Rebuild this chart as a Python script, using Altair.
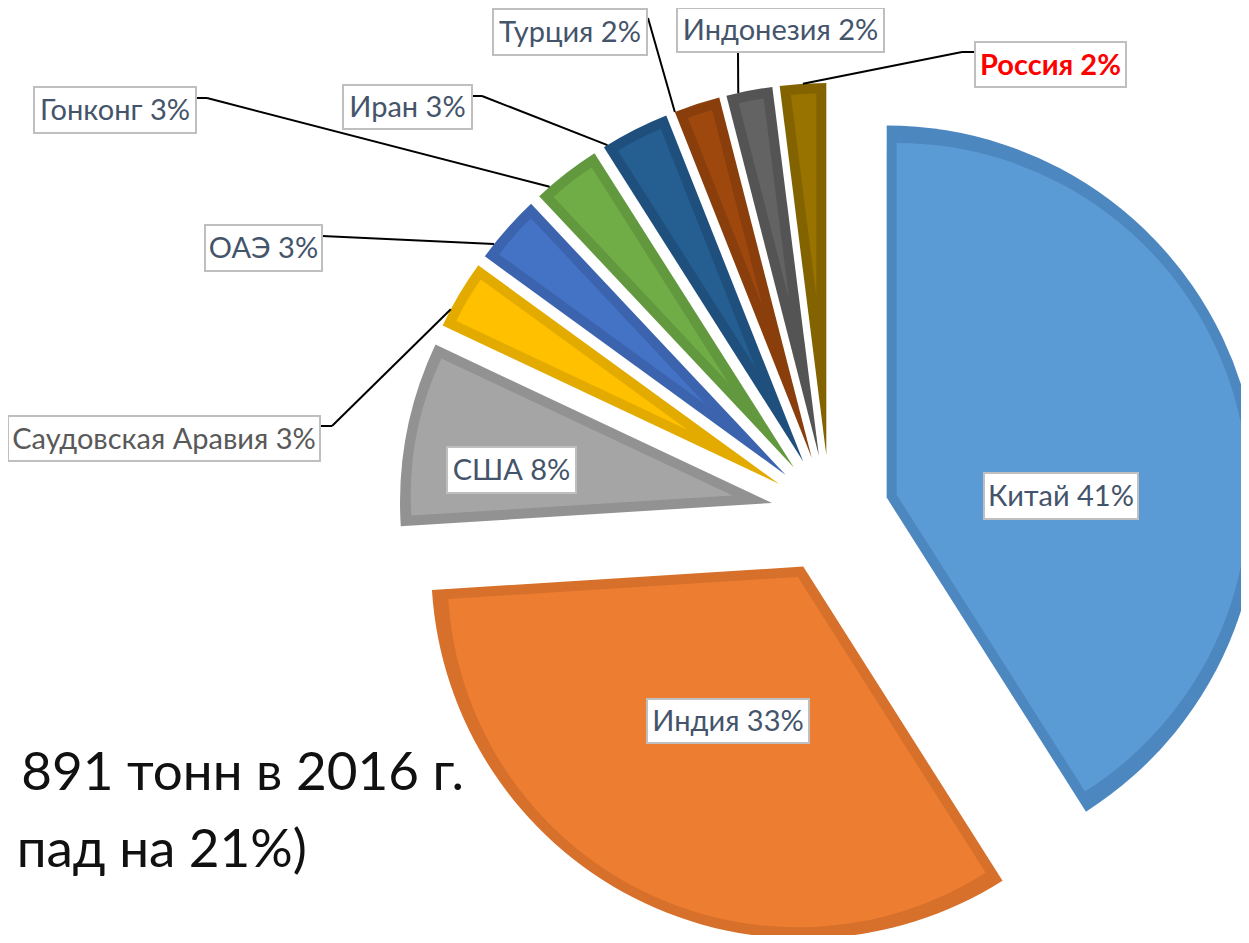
import altair as alt
import pandas as pd

# ---- data ----
countries = ["Китай", "Индия", "США", "Саудовская Аравия", "ОАЭ", "Гонконг",
             "Иран", "Турция", "Индонезия", "Россия"]
shares = [41, 33, 8, 3, 3, 3, 3, 2, 2, 2]
labels = ["Китай 41%", "Индия 33%", "США  8%", "Саудовская Аравия 3%", "ОАЭ 3%",
          "Гонконг 3%", "Иран 3%", "Турция 2%", "Индонезия 2%", "Россия 2%"]
note_lines = ["891 тонн в 2016 г.", "пад на 21%)"]

# ---- styles ----
fill_colors = ["#5B9BD5", "#ED7D31", "#A5A5A5", "#FFC000", "#4472C4", "#70AD47",
               "#255E91", "#9E480E", "#636363", "#997300"]
border_colors = ["#4D87C0", "#D6702B", "#929292", "#E3AB00", "#3C64AE", "#62983E",
                 "#1F507D", "#893E0C", "#545454", "#836300"]
label_colors = ["#44546A", "#44546A", "#44546A", "#595959", "#44546A", "#44546A",
                "#44546A", "#44546A", "#44546A", "#FF0000"]
label_bold = [0] * 9 + [1]

# ---- layout (pixels inside the view) ----
box_x1 = [976, 639, 439, 0, 197, 26, 335, 485, 669, 967]
box_x2 = [1130, 801, 568, 312, 314, 188, 464, 639, 876, 1118]
box_y1 = [465, 691, 439, 408, 217, 79, 77, 1, 0, 34]
box_y2 = [511, 735, 485, 453, 263, 125, 121, 47, 44, 79]
lead_ax = [0, 0, 0, 312, 314, 188, 464, 640, 730, 967]
lead_ay = [0, 0, 0, 418, 228, 90, 88, 10, 44, 44]
lead_ex = [0, 0, 0, 324, 314, 199, 474, 640, 730, 954]
lead_ey = [0, 0, 0, 418, 228, 90, 88, 10, 44, 44]
lead_frac = [-1, -1, -1, 0.26, 0.22, 0.2, 0.06, 0.0, 0.26, 0.5]

CX, CY = 822, 506      # pie centre
R = 372                # radius
EXPLODE = 59           # explosion distance
BORDER = 10            # inner border width
W, H = 1233, 927

df = pd.DataFrame({
    "order": list(range(len(countries))),
    "country": countries, "share": shares, "label": labels,
    "fillc": fill_colors, "borderc": border_colors,
    "lcolor": label_colors, "bold": label_bold,
    "bx1": box_x1, "bx2": box_x2, "by1": box_y1, "by2": box_y2,
    "ax": lead_ax, "ay": lead_ay, "ex": lead_ex, "ey": lead_ey, "frac": lead_frac,
})

base = (
    alt.Chart(df)
    .transform_window(cum="sum(share)", sort=[alt.SortField("order")], frame=[None, 0])
    .transform_joinaggregate(total="sum(share)")
    .transform_calculate(a0="2*PI*(datum.cum - datum.share)/datum.total")
    .transform_calculate(a1="2*PI*datum.cum/datum.total")
    .transform_calculate(mid="(datum.a0 + datum.a1)/2")
    .transform_calculate(half="(datum.a1 - datum.a0)/2")
    .transform_calculate(ox=f"{CX} + {EXPLODE}*sin(datum.mid)")
    .transform_calculate(oy=f"{CY} - {EXPLODE}*cos(datum.mid)")
    .transform_calculate(s=f"{BORDER}/sin(datum.half)")
    .transform_calculate(ix="datum.ox + datum.s*sin(datum.mid)")
    .transform_calculate(iy="datum.oy - datum.s*cos(datum.mid)")
    .transform_calculate(ir=f"{R - BORDER} - datum.s")
    .transform_calculate(at="datum.a0 + datum.frac*(datum.a1 - datum.a0)")
    .transform_calculate(tx=f"datum.ox + {R}*sin(datum.at)")
    .transform_calculate(ty=f"datum.oy - {R}*cos(datum.at)")
    .transform_calculate(cxl="(datum.bx1 + datum.bx2)/2")
    .transform_calculate(cyl="(datum.by1 + datum.by2)/2")
)

outer = base.mark_arc(outerRadius=R, clip=True).encode(
    x=alt.X("ox:Q", scale=None, axis=None),
    y=alt.Y("oy:Q", scale=None, axis=None),
    theta=alt.Theta("a0:Q", scale=None, stack=False),
    theta2="a1:Q",
    color=alt.Color("borderc:N", scale=None, legend=None),
)

inner = base.mark_arc(clip=True).encode(
    x=alt.X("ix:Q", scale=None, axis=None),
    y=alt.Y("iy:Q", scale=None, axis=None),
    theta=alt.Theta("a0:Q", scale=None, stack=False),
    theta2="a1:Q",
    radius=alt.Radius("ir:Q", scale=None),
    color=alt.Color("fillc:N", scale=None, legend=None),
)

leads = base.transform_filter("datum.frac >= 0")
lead1 = leads.mark_rule(color="#000000", strokeWidth=2).encode(
    x=alt.X("ax:Q", scale=None, axis=None), y=alt.Y("ay:Q", scale=None, axis=None),
    x2="ex:Q", y2="ey:Q",
)
lead2 = leads.mark_rule(color="#000000", strokeWidth=2).encode(
    x=alt.X("ex:Q", scale=None, axis=None), y=alt.Y("ey:Q", scale=None, axis=None),
    x2="tx:Q", y2="ty:Q",
)

boxes = base.mark_rect(fill="white", stroke="#BFBFBF", strokeWidth=2).encode(
    x=alt.X("bx1:Q", scale=None, axis=None), x2="bx2:Q",
    y=alt.Y("by1:Q", scale=None, axis=None), y2="by2:Q",
)

text_enc = dict(
    x=alt.X("cxl:Q", scale=None, axis=None),
    y=alt.Y("cyl:Q", scale=None, axis=None),
    text="label:N",
    color=alt.Color("lcolor:N", scale=None, legend=None),
)
texts = base.transform_filter("datum.bold == 0").mark_text(
    font="Lato", fontSize=29, align="center", baseline="middle", dy=1
).encode(**text_enc)
texts_bold = base.transform_filter("datum.bold == 1").mark_text(
    font="Lato", fontSize=29, fontWeight="bold", align="center", baseline="middle", dy=1
).encode(**text_enc)

note_df = pd.DataFrame({"t": note_lines, "line": [0, 1]})
note = alt.Chart(note_df).transform_calculate(
    nx="datum.line == 0 ? 456 : 299",
    ny="datum.line == 0 ? 782 : 859",
).mark_text(font="Lato", fontSize=53, align="right",
            baseline="alphabetic", color="#111111").encode(
    x=alt.X("nx:Q", scale=None, axis=None),
    y=alt.Y("ny:Q", scale=None, axis=None),
    text="t:N",
)

chart = alt.layer(note, outer, inner, lead1, lead2, boxes, texts, texts_bold).properties(
    width=W, height=H, padding=0,
    autosize=alt.AutoSizeParams(type="none"),
).configure_view(stroke=None)

chart.save("out.html", embed_options={"renderer": "svg", "actions": False})
